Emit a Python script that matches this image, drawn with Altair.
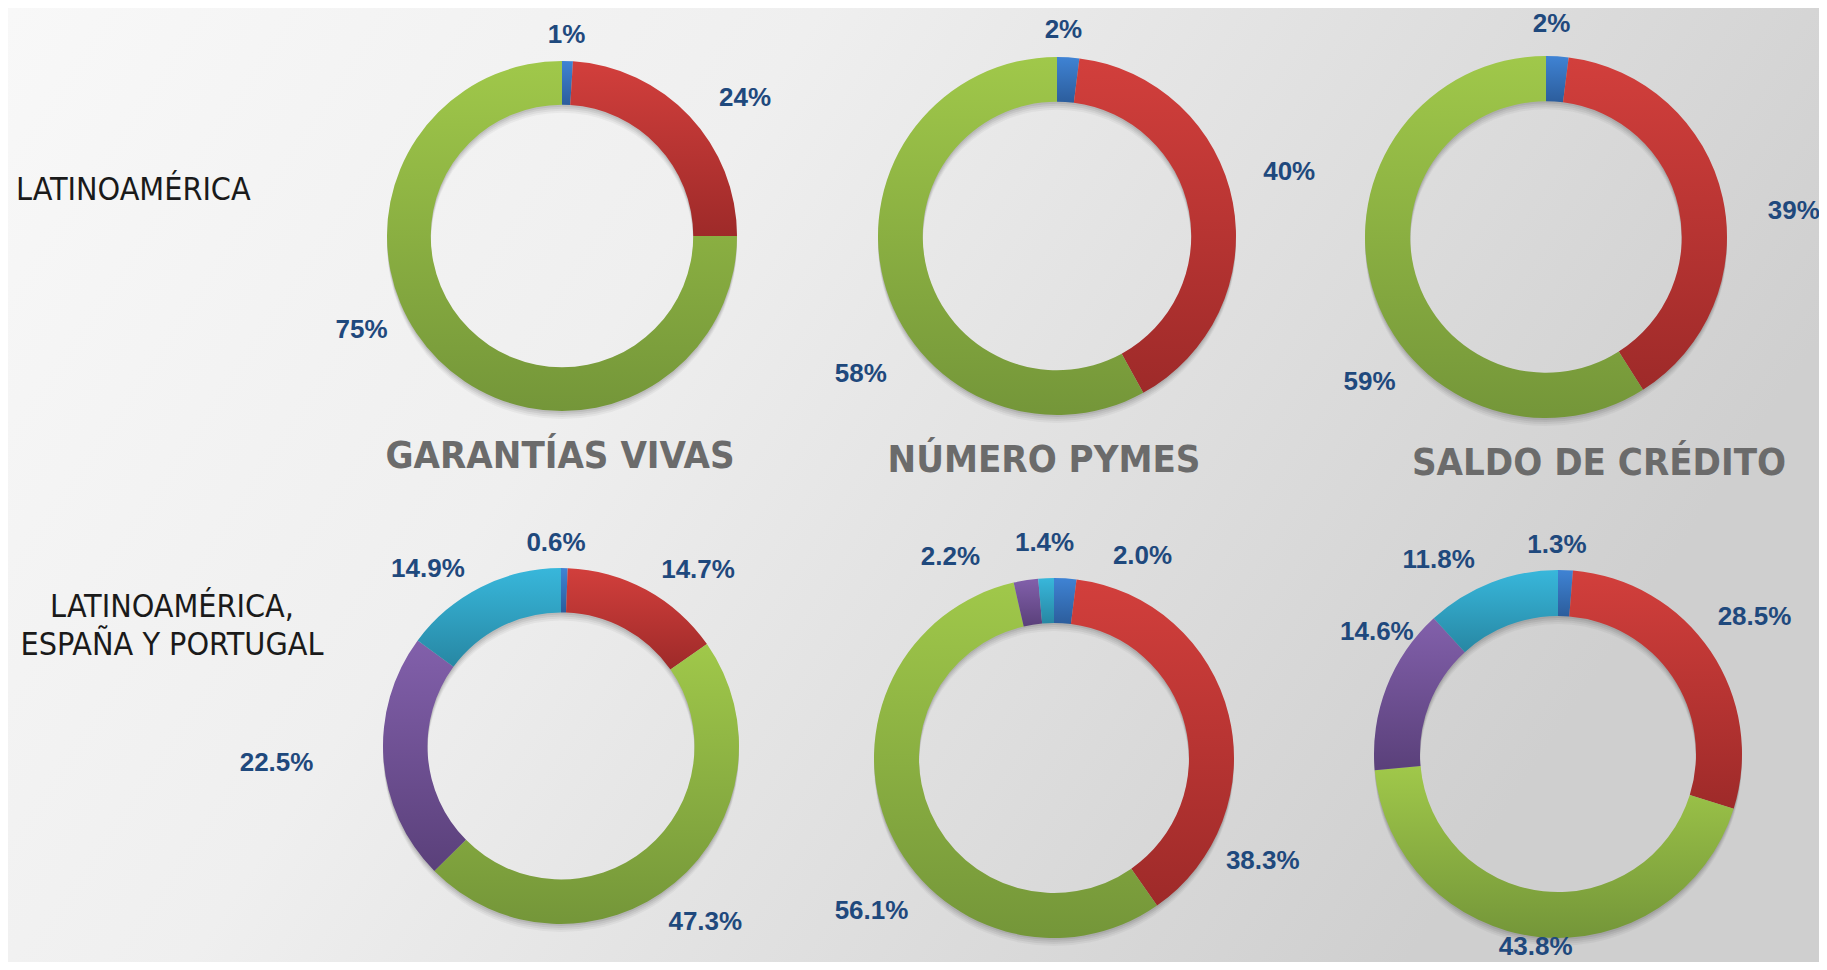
import math
import altair as alt
import pandas as pd

# ---------------- data ----------------
CATEGORIES = ["Serie A", "Serie B", "Serie C", "Serie D", "Serie E"]  # clockwise from 12 o'clock
CHART_IDS = ["lat_garantias", "lat_pymes", "lat_saldo", "all_garantias", "all_pymes", "all_saldo"]
LAT_GARANTIAS = [1, 24, 75]
LAT_PYMES = [2, 40, 58]
LAT_SALDO = [2, 39, 59]
ALL_GARANTIAS = [0.6, 14.7, 47.3, 22.5, 14.9]
ALL_PYMES = [2.0, 38.3, 56.1, 2.2, 1.4]
ALL_SALDO = [1.3, 28.5, 43.8, 14.6, 11.8]
VALUES = [LAT_GARANTIAS, LAT_PYMES, LAT_SALDO, ALL_GARANTIAS, ALL_PYMES, ALL_SALDO]
DECIMALS = [0, 0, 0, 1, 1, 1]
TITLES = ["GARANTÍAS VIVAS", "NÚMERO PYMES", "SALDO DE CRÉDITO"]
ROW1_LABEL = "LATINOAMÉRICA"
ROW2_LABEL = ["LATINOAMÉRICA,", "ESPAÑA Y PORTUGAL"]

# ---------------- layout / style ----------------
OFF = 8
W, H = 1811, 954
FONT = "Liberation Sans, Arial, Helvetica, sans-serif"
FONT2 = "DejaVu Sans Condensed, Tahoma, DejaVu Sans, sans-serif"
# donut centre (page px) and outer radius
LAYOUT = {
    "lat_garantias": (562, 236, 175),
    "lat_pymes": (1057, 236, 179),
    "lat_saldo": (1546, 237, 181),
    "all_garantias": (561, 746, 178),
    "all_pymes": (1054, 758, 180),
    "all_saldo": (1558, 754, 184),
}
HOLE = 0.75
LABEL_GAP = 35
# label nudges (px) from the polar mid-angle position
NUDGE = {
    ("lat_garantias", 0): (-2, 9), ("lat_garantias", 1): (30, 6), ("lat_garantias", 2): (-52, -54),
    ("lat_pymes", 0): (-7, 8), ("lat_pymes", 1): (22, -24), ("lat_pymes", 2): (11, 85),
    ("lat_saldo", 0): (-8, 3), ("lat_saldo", 1): (37, 21), ("lat_saldo", 2): (31, 85),
    ("all_garantias", 0): (-9, 10), ("all_garantias", 1): (35, 11), ("all_garantias", 2): (8, 12),
    ("all_garantias", 3): (-72, 2), ("all_garantias", 4): (-37, 13),
    ("all_pymes", 0): (75, 13), ("all_pymes", 1): (0, 155), ("all_pymes", 2): (14, 66),
    ("all_pymes", 3): (-70, 11),
    ("all_saldo", 0): (-10, 10), ("all_saldo", 1): (15, -14), ("all_saldo", 2): (1, -25),
    ("all_saldo", 3): (23, -43), ("all_saldo", 4): (-40, 10),
}
SEG_COLORS = [("#3f83d4", "#2c5d9c"), ("#d23f3c", "#9e2a29"), ("#a0c84a", "#749639"),
              ("#8260ab", "#5a407a"), ("#38b7db", "#2787a3")]
LABEL_COLOR = "#1f497d"
TITLE_COLOR = "#6b6b6b"


def vgrad(top, bottom):
    return alt.Gradient(gradient="linear", x1=0, y1=0, x2=0, y2=1,
                        stops=[alt.GradientStop(color=top, offset=0),
                               alt.GradientStop(color=bottom, offset=1)])


TSCALE = alt.Scale(domain=[0, 100], range=[0, 2 * math.pi])

# build table
rows = []
for cid, vals, dec in zip(CHART_IDS, VALUES, DECIMALS):
    acc = 0.0
    for i, v in enumerate(vals):
        rows.append({"chart": cid, "idx": i, "cat": CATEGORIES[i], "value": v,
                     "start": acc, "end": acc + v, "mid": acc + v / 2,
                     "label": f"{v:.{dec}f}%"})
        acc += v
df = pd.DataFrame(rows)
one = pd.DataFrame({"k": [0]})

layers = []
# background
bg = alt.Gradient(gradient="linear", x1=0, y1=0, x2=1, y2=0.35,
                  stops=[alt.GradientStop(color="#f8f8f8", offset=0),
                         alt.GradientStop(color="#efefef", offset=0.4),
                         alt.GradientStop(color="#dfdfdf", offset=0.7),
                         alt.GradientStop(color="#cfcfcf", offset=1)])
layers.append(alt.Chart(one).mark_rect(fill=bg).encode(
    x=alt.value(0), x2=alt.value(W), y=alt.value(0), y2=alt.value(H)))

for cid in CHART_IDS:
    cx, cy, ro = LAYOUT[cid]
    ri = ro * HOLE
    px, py = cx - OFF, cy - OFF
    # soft drop shadow (offset downwards only)
    for dy, op in [(2, 0.07), (4, 0.06), (6, 0.05), (8, 0.04)]:
        layers.append(alt.Chart(one).mark_arc(
            theta=0, theta2=2 * math.pi, radius=ro, radius2=ri,
            fill="#000000", opacity=op).encode(x=alt.value(px), y=alt.value(py + dy)))
    sub = df[df.chart == cid]
    for i in sorted(sub.idx.unique()):
        seg = sub[sub.idx == i]
        top, bottom = SEG_COLORS[i]
        layers.append(alt.Chart(seg).mark_arc(
            radius=ro, radius2=ri, fill=vgrad(top, bottom)).encode(
            theta=alt.Theta("start:Q", scale=TSCALE, stack=None),
            theta2="end:Q",
            x=alt.value(px), y=alt.value(py)))
    for i in sorted(sub.idx.unique()):
        seg = sub[sub.idx == i]
        nx, ny = NUDGE.get((cid, i), (0, 0))
        layers.append(alt.Chart(seg).mark_text(
            radius=ro + LABEL_GAP, dx=nx, dy=ny, font=FONT, fontSize=26, fontWeight="bold",
            color=LABEL_COLOR, align="center", baseline="middle").encode(
            theta=alt.Theta("mid:Q", scale=TSCALE, stack=None),
            text="label:N",
            x=alt.value(px), y=alt.value(py)))

# titles
TITLE_POS = [(560, 457), (1044, 461), (1599, 464)]
for t, (tx, ty) in zip(TITLES, TITLE_POS):
    layers.append(alt.Chart(pd.DataFrame({"t": [t]})).mark_text(
        font=FONT2, fontSize=38, fontWeight="bold", color=TITLE_COLOR,
        align="center", baseline="middle").encode(
        text="t:N", x=alt.value(tx - OFF), y=alt.value(ty - OFF)))

# row labels
layers.append(alt.Chart(pd.DataFrame({"t": [ROW1_LABEL]})).mark_text(
    font=FONT2, fontSize=32, color="#1a1a1a", align="left", baseline="middle").encode(
    text="t:N", x=alt.value(16 - OFF), y=alt.value(190 - OFF)))
for line, ly in zip(ROW2_LABEL, [607, 645]):
    layers.append(alt.Chart(pd.DataFrame({"t": [line]})).mark_text(
        font=FONT2, fontSize=32, color="#1a1a1a", align="center", baseline="middle").encode(
        text="t:N", x=alt.value(172 - OFF), y=alt.value(ly - OFF)))

chart = alt.layer(*layers).properties(
    width=W, height=H, padding=0,
    autosize=alt.AutoSizeParams(type="none"),
).configure_view(stroke=None)

chart.save("out.html", embed_options={"renderer": "svg", "actions": False})
